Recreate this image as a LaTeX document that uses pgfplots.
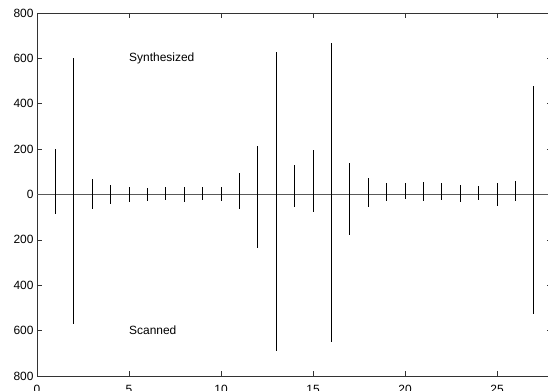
\documentclass[border=0pt]{standalone}
\usepackage{pgfplots}
\pgfplotsset{compat=1.18}
\usepackage{fontspec}
\setmainfont{Liberation Sans}
\pgfplotstableread{
x top bot
1 200 -84
2 600 -573
3 69 -66
4 40 -43
5 34 -34
6 28 -27
7 34 -25
8 34 -32
9 31 -25
10 32 -29
11 94 -63
12 212 -237
13 629 -690
14 130 -56
15 194 -75
16 667 -648
17 141 -177
18 71 -56
19 49 -29
20 50 -22
21 53 -29
22 49 -26
23 40 -32
24 37 -26
25 50 -52
26 60 -27
27 476 -527
}\datatable
\begin{document}
\begin{tikzpicture}
\begin{axis}[name=ax,
  scale only axis, width=515.2bp, height=363bp,
  xmin=0, xmax=28, ymin=-800, ymax=800,
  xtick={0,5,...,25}, ytick={-800,-600,...,800},
  yticklabels={800,600,400,200,0,200,400,600,800},
  tick align=inside, major tick length=5bp,
  xtick pos=both, ytick pos=both,
  axis line style={black!80, line width=0.6pt},
  tick style={black!80, line width=0.6pt},
  ticklabel style={font=\fontsize{12}{14}\selectfont},
  /pgf/number format/assume math mode=true,
  xticklabel style={yshift=-6bp},
  clip=false,
]
\addplot[black!65, line width=1pt] coordinates {(0,0) (28,0)};
\addplot[ycomb, black, line width=0.7pt, mark=none] table[x=x, y=top] {\datatable};
\addplot[ycomb, black, line width=0.7pt, mark=none] table[x=x, y=bot] {\datatable};
\node[anchor=west, inner sep=0pt, font=\fontsize{12}{14}\selectfont] at (axis cs:5,600) {Synthesized};
\node[anchor=west, inner sep=0pt, font=\fontsize{12}{14}\selectfont] at (axis cs:5,-600) {Scanned};
\end{axis}
\pgfresetboundingbox
\useasboundingbox ([xshift=-37bp,yshift=-15bp]ax.south west) rectangle ([xshift=511bp,yshift=13bp]ax.north west);
\end{tikzpicture}
\end{document}
